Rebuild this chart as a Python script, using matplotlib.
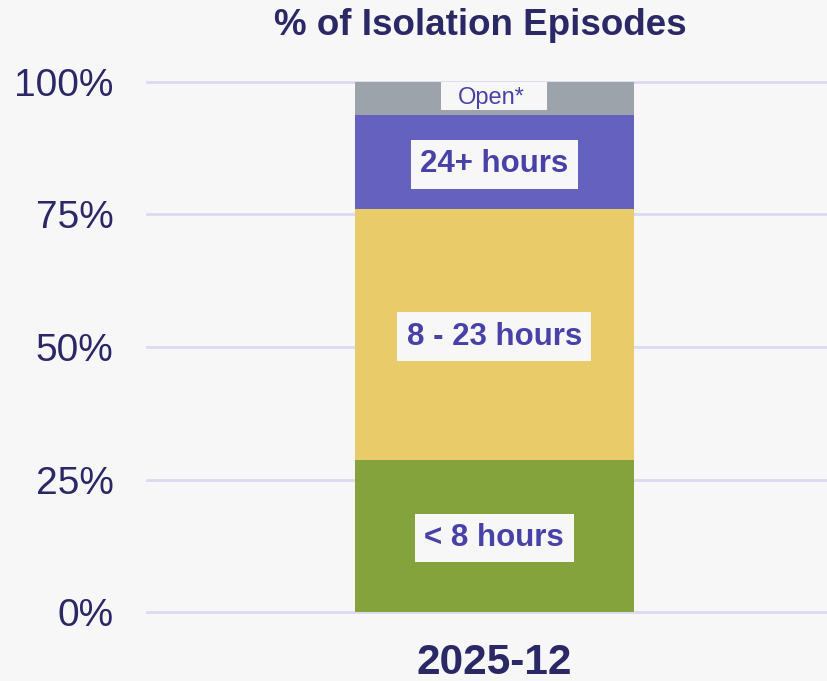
import matplotlib.pyplot as plt
from matplotlib.patches import Rectangle

# data
period = ['2025-12']
categories = ['< 8 hours', '8 - 23 hours', '24+ hours', 'Open*']
values = [28.7, 47.3, 17.7, 6.3]
colors = ['#84a33c', '#e9cb6a', '#6461bf', '#9ca3aa']
yticks = [0, 25, 50, 75, 100]

bg = '#f7f7f8'
navy = '#2b2866'
labcol = '#4842a8'

plt.rcParams['font.family'] = ['Liberation Sans', 'DejaVu Sans']

fig = plt.figure(figsize=(8.28, 6.81), dpi=100, facecolor=bg)
ax = fig.add_axes([0.1775, 0.1013, 0.8225, 0.7783], facecolor=bg)

bottom = 0
for cat, v, c in zip(categories, values, colors):
    ax.bar(0, v, width=0.82, bottom=bottom, color=c, zorder=2)
    mid = bottom + v / 2
    if cat == 'Open*':
        # label box sits flush against the top of the stack
        top = bottom + v
        ax.add_patch(Rectangle((-0.156, top - 5.3), 0.312, 5.3, fc=bg,
                               ec='none', zorder=3))
        ax.text(-0.01, top - 3.0, cat, ha='center', va='center', fontsize=17,
                color=labcol, zorder=4)
    else:
        ax.text(0, mid - 0.4, cat, ha='center', va='center', fontsize=22.5,
                fontweight='bold', color=labcol, zorder=3,
                bbox=dict(boxstyle='square,pad=0.3', fc=bg, ec='none'))
    bottom += v

ax.set_xlim(-1.02, 0.98)
ax.set_ylim(0, 100)
ax.set_yticks(yticks)
ax.set_yticklabels([f'{t}%' for t in yticks], fontsize=28, color=navy)
ax.set_xticks([0])
ax.set_xticklabels(period, fontsize=30.5, fontweight='bold', color=navy)
ax.tick_params(axis='both', length=0)
ax.tick_params(axis='y', pad=24)
ax.tick_params(axis='x', pad=22)
ax.grid(axis='y', color='#dcdaf0', linewidth=2, zorder=0)
for gl in ax.yaxis.get_gridlines():
    gl.set_clip_on(False)
for s in ax.spines.values():
    s.set_visible(False)

fig.text(0.58, 0.962, '% of Isolation Episodes', ha='center', va='center',
         fontsize=26.5, fontweight='bold', color=navy)

fig.savefig('out.png', dpi=100, facecolor=bg)
